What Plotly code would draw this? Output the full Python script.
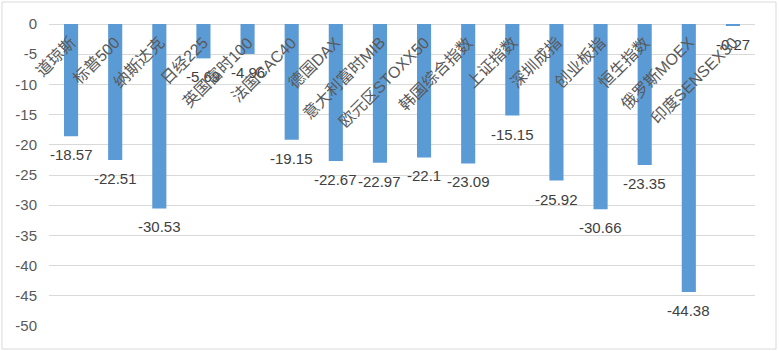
import plotly.graph_objects as go

categories = ["道琼斯", "标普500", "纳斯达克", "日经225", "英国富时100", "法国CAC40",
              "德国DAX", "意大利富时MIB", "欧元区STOXX50", "韩国综合指数", "上证指数",
              "深圳成指", "创业板指", "恒生指数", "俄罗斯MOEX", "印度SENSEX30"]
values = [-18.57, -22.51, -30.53, -5.69, -4.96, -19.15, -22.67, -22.97, -22.1,
          -23.09, -15.15, -25.92, -30.66, -23.35, -44.38, -0.27]
y_ticks = [0, -5, -10, -15, -20, -25, -30, -35, -40, -45, -50]

W, H = 779, 351
L, R, T, B = 49, 24, 24, 25
FONT = "Liberation Sans, Noto Sans CJK SC, sans-serif"

fig = go.Figure()
fig.add_trace(go.Bar(x=categories, y=values, marker_color="#5B9BD5",
                     marker_line_width=0, hoverinfo="skip"))

annotations = []
for c, v in zip(categories, values):
    annotations.append(dict(x=c, y=v, xref="x", yref="y", text=str(v), showarrow=False,
                            xanchor="center", yanchor="top", yshift=-8,
                            font=dict(size=15, color="#404040", family=FONT)))
    annotations.append(dict(x=c, y=0, xref="x", yref="y", text=c, showarrow=False,
                            textangle=-45, xanchor="right", yanchor="top",
                            xshift=11, yshift=-7,
                            font=dict(size=16, color="#595959", family=FONT)))

pw, ph = W - L - R, H - T - B
shapes = [dict(type="rect", xref="paper", yref="paper",
               x0=(2 - L) / pw, x1=(776 - L) / pw,
               y0=-(349 - T - ph) / ph, y1=1 + (T - 2) / ph,
               line=dict(color="#D9D9D9", width=1), fillcolor="rgba(0,0,0,0)", layer="below")]

fig.update_layout(
    width=W, height=H, margin=dict(l=L, r=R, t=T, b=B, pad=0),
    paper_bgcolor="white", plot_bgcolor="white",
    bargap=0.68, showlegend=False,
    annotations=annotations, shapes=shapes,
    xaxis=dict(range=[-0.5, len(categories) - 0.5], autorange=False,
               showticklabels=False, showgrid=False, showline=False, zeroline=False,
               ticks=""),
    yaxis=dict(range=[-50, 0], autorange=False, tickvals=y_ticks,
               ticktext=[str(t) for t in y_ticks],
               showgrid=True, gridcolor="#D9D9D9", gridwidth=1,
               zeroline=True, zerolinecolor="#D9D9D9", zerolinewidth=1,
               showline=False, ticks="", ticklabelstandoff=11,
               tickfont=dict(size=15, color="#595959", family=FONT)),
)
fig.write_html("out.html")
